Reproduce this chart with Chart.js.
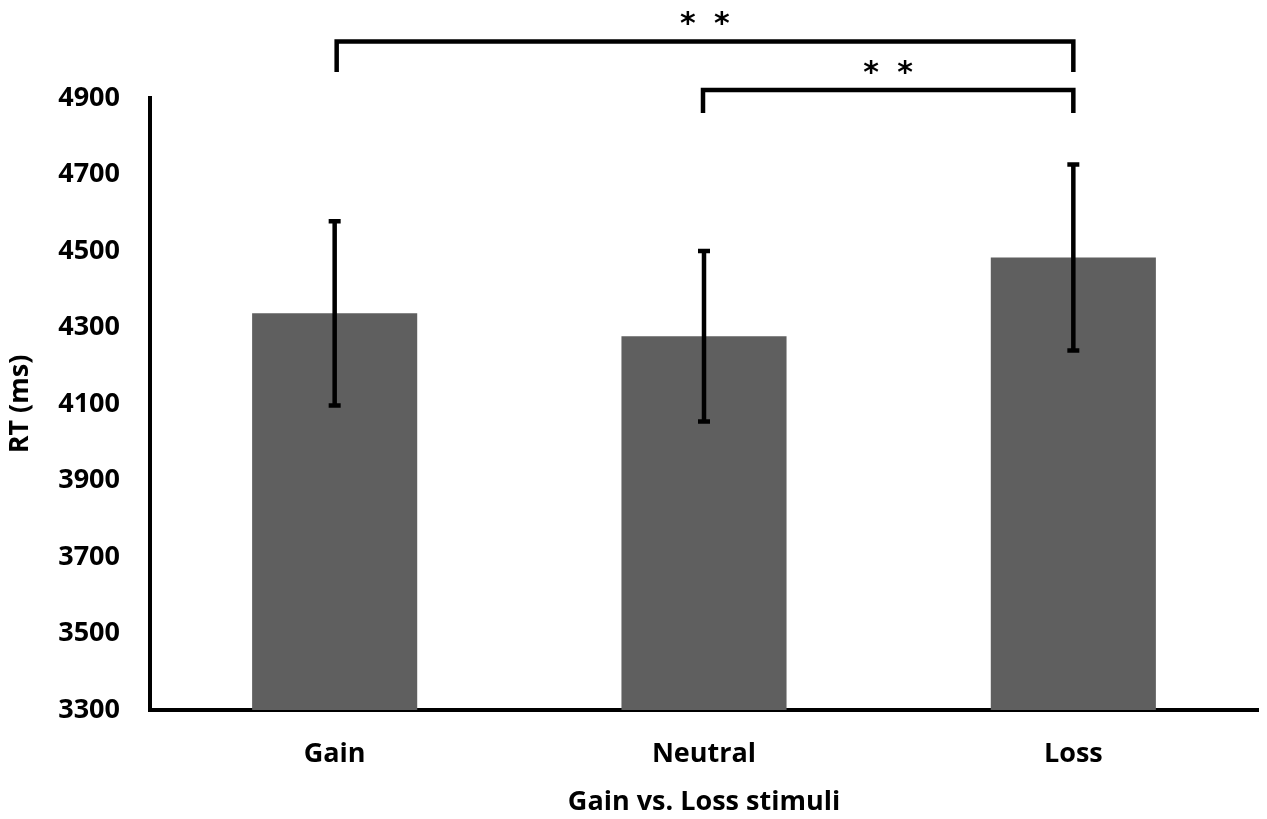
<!DOCTYPE html>
<html>
<head>
<meta charset="utf-8">
<script src="https://cdn.jsdelivr.net/npm/chart.js@4"></script>
<style>
  html, body { margin: 0; padding: 0; background: #fff; }
  #wrap { width: 1267px; height: 819px; position: relative; }
</style>
</head>
<body>
<div id="wrap"><canvas id="c"></canvas></div>
<script>
// ---- data ----
const categories = ['Gain', 'Neutral', 'Loss'];
const meanRT = [4337, 4277, 4483];
const errRT = [241, 223, 243];
const yTicks = [3300, 3500, 3700, 3900, 4100, 4300, 4500, 4700, 4900];
const sigPairs = [[0, 2], [1, 2]];
const sigLabels = ['* *', '* *'];

const FONT = '"Open Sans", "Liberation Sans", sans-serif';

const errorBars = {
  id: 'errorBars',
  afterDatasetsDraw(chart) {
    const ctx = chart.ctx, xs = chart.scales.x, ys = chart.scales.y;
    ctx.save();
    ctx.strokeStyle = '#000';
    ctx.lineWidth = 4.5;
    ctx.lineCap = 'butt';
    meanRT.forEach((m, i) => {
      const x = xs.getPixelForValue(i);
      const yt = ys.getPixelForValue(m + errRT[i]);
      const yb = ys.getPixelForValue(m - errRT[i]);
      ctx.beginPath();
      ctx.moveTo(x, yt); ctx.lineTo(x, yb);
      ctx.moveTo(x - 6, yt); ctx.lineTo(x + 6, yt);
      ctx.moveTo(x - 6, yb); ctx.lineTo(x + 6, yb);
      ctx.stroke();
    });
    ctx.restore();
  }
};

const sigBrackets = {
  id: 'sigBrackets',
  afterDraw(chart, args, opts) {
    const ctx = chart.ctx, xs = chart.scales.x, ys = chart.scales.y;
    ctx.save();
    ctx.strokeStyle = '#000';
    ctx.fillStyle = '#000';
    ctx.lineWidth = 4.5;
    ctx.lineCap = 'butt';
    ctx.lineJoin = 'miter';
    sigPairs.forEach((p, k) => {
      const b = opts.levels[k];
      const x1 = xs.getPixelForValue(p[0]) + b.dx1;
      const x2 = xs.getPixelForValue(p[1]);
      const yl = ys.getPixelForValue(b.level);
      const yd = ys.getPixelForValue(b.drop);
      ctx.beginPath();
      ctx.moveTo(x1, yd); ctx.lineTo(x1, yl); ctx.lineTo(x2, yl); ctx.lineTo(x2, yd);
      ctx.stroke();
      // asterisks
      ctx.font = 'bold 30px "DejaVu Sans", sans-serif';
      const stars = sigLabels[k].split(' ').filter(s => s);
      const cx = (x1 + x2) / 2;
      const cy = yl - b.gap;
      stars.forEach((s, j) => {
        const m = ctx.measureText(s);
        const sx = cx + (j - (stars.length - 1) / 2) * 34;
        const w = m.actualBoundingBoxLeft + m.actualBoundingBoxRight;
        const h = m.actualBoundingBoxAscent + m.actualBoundingBoxDescent;
        ctx.textBaseline = 'alphabetic';
        ctx.textAlign = 'left';
        ctx.fillText(s, sx - w / 2 + m.actualBoundingBoxLeft, cy + h / 2 - m.actualBoundingBoxDescent);
      });
    });
    ctx.restore();
  }
};

new Chart(document.getElementById('c'), {
  type: 'bar',
  data: {
    labels: categories,
    datasets: [{
      data: meanRT,
      backgroundColor: '#5f5f5f',
      borderWidth: 0,
      barPercentage: 0.447,
      categoryPercentage: 1.0
    }]
  },
  options: {
    responsive: true,
    maintainAspectRatio: false,
    devicePixelRatio: 1,
    animation: false,
    layout: { padding: { top: 98, right: 9, left: 0, bottom: 0 } },
    plugins: {
      legend: { display: false },
      tooltip: { enabled: false },
      sigBrackets: {
        levels: [
          { level: 5048, drop: 4968, gap: 23, dx1: 2 },
          { level: 4921, drop: 4861, gap: 22, dx1: -1 }
        ]
      }
    },
    scales: {
      x: {
        grid: { display: false, drawTicks: false },
        border: { display: true, color: '#000', width: 4 },
        ticks: { color: '#000', font: { family: FONT, size: 27, weight: 'bold' }, padding: 28 },
        title: { display: true, text: 'Gain vs. Loss stimuli', color: '#000',
                 font: { family: FONT, size: 27, weight: 'bold' }, padding: { top: 0, bottom: 0 } },
        afterFit: s => { s.height = 109; }
      },
      y: {
        min: yTicks[0],
        max: yTicks[yTicks.length - 1],
        grid: { display: false, drawTicks: false },
        border: { display: true, color: '#000', width: 4 },
        afterBuildTicks: s => { s.ticks = yTicks.map(v => ({ value: v })); },
        ticks: { color: '#000', font: { family: FONT, size: 27, weight: 'bold' }, padding: 30,
                 callback: v => String(v) },
        title: { display: true, text: 'RT (ms)', color: '#000',
                 font: { family: FONT, size: 27, weight: 'bold' }, padding: { top: 4, bottom: 0 } },
        afterFit: s => { s.width = 150; }
      }
    }
  },
  plugins: [errorBars, sigBrackets]
});
</script>
</body>
</html>
